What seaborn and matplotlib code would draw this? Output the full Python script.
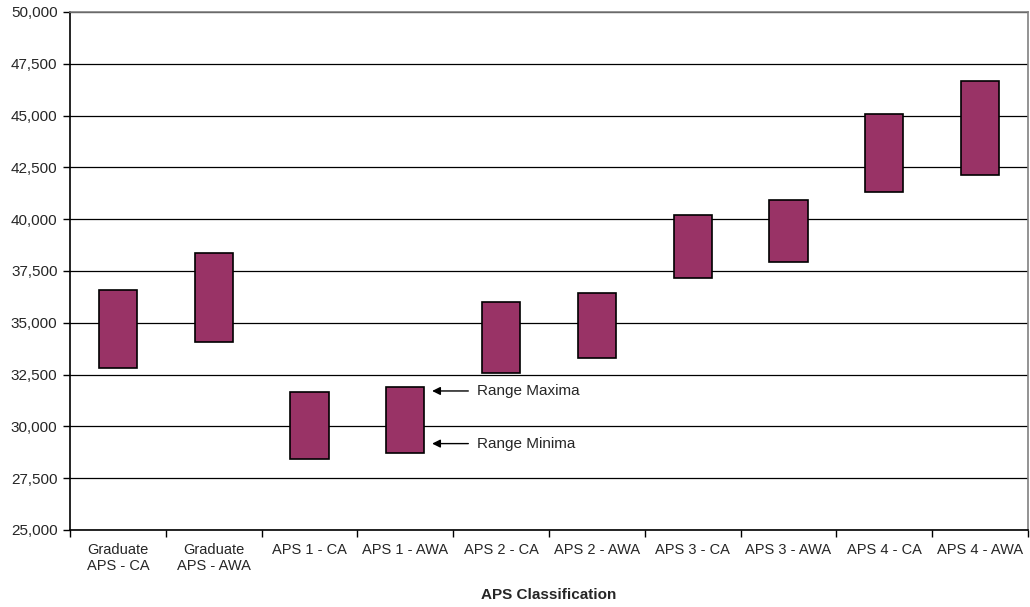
import numpy as np
import pandas as pd
import matplotlib
matplotlib.use("Agg")
import matplotlib.pyplot as plt
from matplotlib.ticker import FuncFormatter, FixedLocator
import seaborn as sns

# Salary ranges per APS classification
categories = ["Graduate\nAPS - CA", "Graduate\nAPS - AWA", "APS 1 - CA", "APS 1 - AWA",
              "APS 2 - CA", "APS 2 - AWA", "APS 3 - CA", "APS 3 - AWA",
              "APS 4 - CA", "APS 4 - AWA"]
range_min = [32830, 34060, 28430, 28720, 32580, 33320, 37160, 37920, 41330, 42140]
range_max = [36580, 38350, 31650, 31900, 36020, 36420, 40220, 40910, 45080, 46650]

df = pd.DataFrame({
    "cls": categories,
    "low": range_min,
    "span": np.array(range_max) - np.array(range_min),
})

sns.set_theme(style="white")
plt.rcParams["font.family"] = ["Liberation Sans", "DejaVu Sans"]

fig = plt.figure(figsize=(10.30, 6.07), dpi=100)
ax = fig.add_axes([70 / 1030, 1 - 530 / 607, 958 / 1030, 518 / 607])

sns.barplot(data=df, x="cls", y="span", bottom=df["low"].to_numpy(), ax=ax,
            color="#993366", saturation=1, width=0.4,
            edgecolor="black", linewidth=1.2, zorder=3)

ax.set_ylim(25000, 50000)
ax.set_xlim(-0.5, len(categories) - 0.5)
ax.set_yticks(np.arange(25000, 50001, 2500))
ax.yaxis.set_major_formatter(FuncFormatter(lambda v, p: f"{int(v):,}"))
ax.grid(axis="y", color="black", linewidth=0.9, zorder=0)
ax.grid(axis="x", visible=False)

# Category ticks sit between the groups
ax.xaxis.set_minor_locator(FixedLocator(np.arange(-0.5, len(categories), 1.0)))
ax.tick_params(axis="x", which="major", length=0, pad=9, labelsize=10.5)
ax.tick_params(axis="x", which="minor", length=5, width=1, color="black", direction="out", bottom=True)
ax.tick_params(axis="y", which="major", length=5, width=1, color="black", direction="out",
               left=True, labelsize=11, pad=4)

for side in ["left", "bottom"]:
    ax.spines[side].set_color("black")
    ax.spines[side].set_linewidth(1.2)
for side in ["top", "right"]:
    ax.spines[side].set_color("#808080")
    ax.spines[side].set_linewidth(1.2)

ax.set_ylabel("")
ax.set_xlabel("APS Classification", fontsize=11, fontweight="bold", labelpad=11)

# Explanatory arrows beside the APS 1 - AWA range
arrow = dict(arrowstyle="-|>", color="black", lw=1.0, mutation_scale=12,
             shrinkA=4, shrinkB=0)
ax.annotate("Range Maxima", xy=(3.28, 31710), xytext=(3.75, 31710),
            fontsize=11, va="center", ha="left", arrowprops=arrow)
ax.annotate("Range Minima", xy=(3.28, 29170), xytext=(3.75, 29170),
            fontsize=11, va="center", ha="left", arrowprops=arrow)

fig.savefig("out.png", dpi=100)
